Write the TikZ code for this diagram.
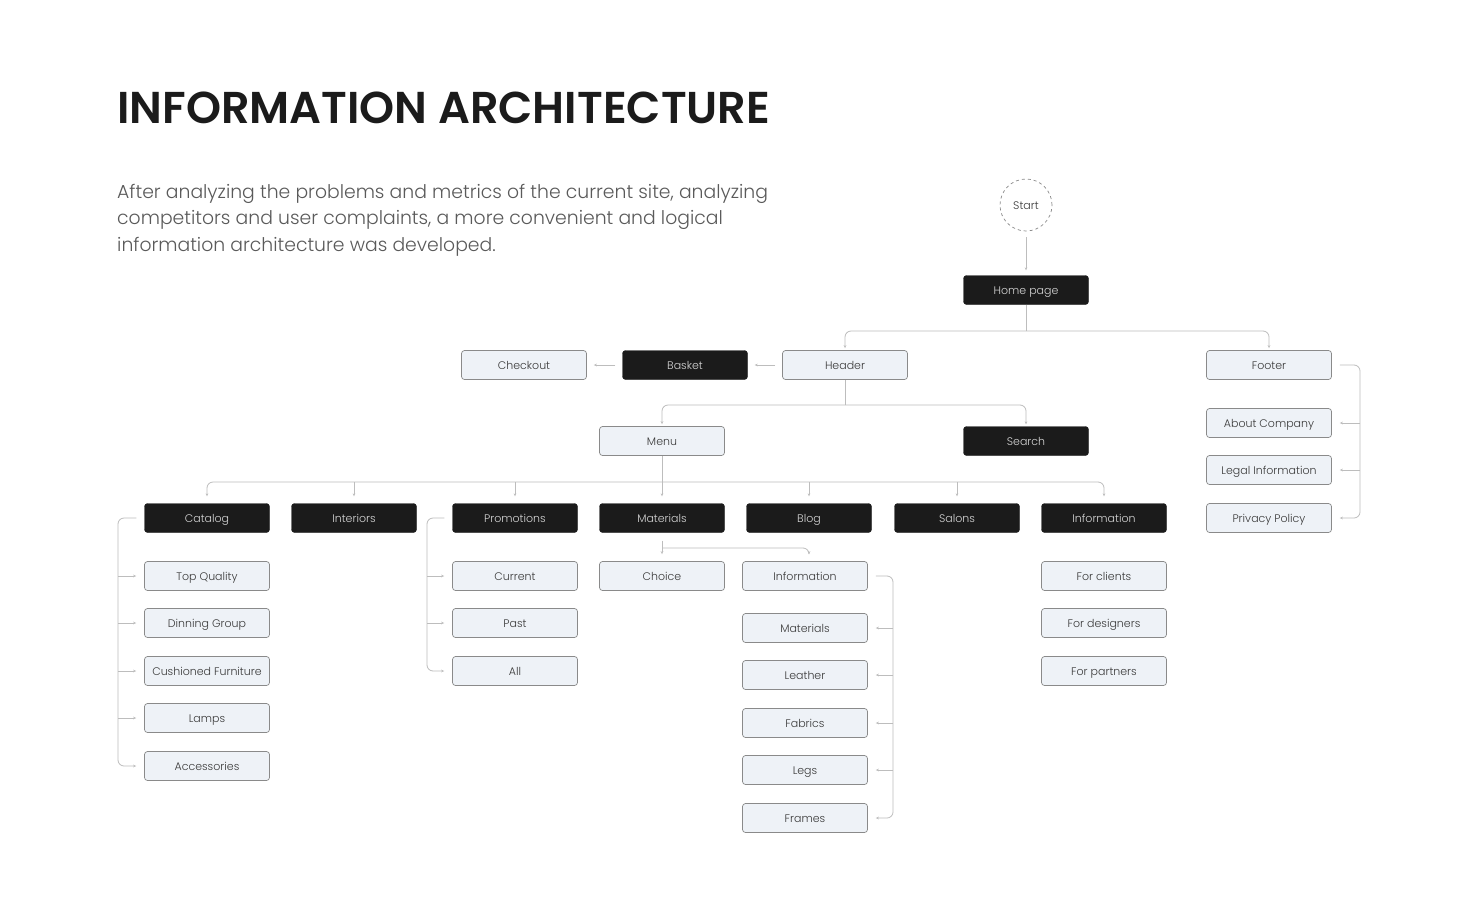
\documentclass[tikz,border=0pt]{standalone}
\usepackage{fontspec}
\setmainfont{Poppins}
\newfontfamily\titlefont{Poppins}[UprightFont={* SemiBold}]
\newfontfamily\lightfont{Poppins}[UprightFont={* Light}]
\usetikzlibrary{arrows.meta}
\definecolor{ink}{HTML}{1B1B1B}
\definecolor{body}{HTML}{5A5A5A}
\definecolor{pale}{HTML}{EEF2F7}
\definecolor{rim}{HTML}{8A8A8A}
\definecolor{wire}{HTML}{BDBDBD}
\definecolor{darktext}{HTML}{D6D6D6}
\definecolor{lighttext}{HTML}{3A3A3A}
\tikzset{
  labeltext/.style={text height=11pt, text depth=1.5pt,
    font=\lightfont\fontsize{11}{13}\selectfont},
  box/.style={rounded corners=3pt, minimum width=125pt, minimum height=29pt,
    inner sep=0pt, labeltext},
  lightbox/.style={box, fill=pale, draw=rim, line width=0.7pt, text=lighttext},
  darkbox/.style={box, fill=ink, draw=ink, text=darktext},
  conn/.style={draw=wire, line width=0.8pt, rounded corners=6pt},
  arr/.style={conn, -{Stealth[length=3pt,width=2.6pt]}},
}
\begin{document}
\begin{tikzpicture}[x=1pt,y=-1pt]
\useasboundingbox[fill=white] (0,0) rectangle (1481,916);

% heading and introduction
\node[anchor=base west, inner sep=0pt, text=ink,
  font=\titlefont\fontsize{44.6}{50}\selectfont] (title) at (117,123) {INFORMATION ARCHITECTURE};
\node[anchor=north west, inner sep=0pt, text=body, align=left,
  font=\lightfont\fontsize{18.8}{26.5}\selectfont] (intro) at (117,184)
  {After analyzing the problems and metrics of the current site, analyzing\\
   competitors and user complaints, a more convenient and logical\\
   information architecture was developed.};

% top levels
\node[circle, draw=rim, dashed, line width=0.7pt, minimum size=52pt, inner sep=0pt,
  labeltext, text=lighttext] (start) at (1026,205) {Start};
\node[darkbox] (home) at (1026,290) {Home page};
\node[lightbox] (checkout) at (524,365) {Checkout};
\node[darkbox] (basket) at (685,365) {Basket};
\node[lightbox] (header) at (845,365) {Header};
\node[lightbox] (footer) at (1269,365) {Footer};
\node[lightbox] (menu) at (662,441) {Menu};
\node[darkbox] (search) at (1026,441) {Search};

% menu sections
\node[darkbox] (catalog) at (207,518) {Catalog};
\node[darkbox] (interiors) at (354,518) {Interiors};
\node[darkbox] (promo) at (515,518) {Promotions};
\node[darkbox] (materials) at (662,518) {Materials};
\node[darkbox] (blog) at (809,518) {Blog};
\node[darkbox] (salons) at (957,518) {Salons};
\node[darkbox] (info) at (1104,518) {Information};

% footer pages
\node[lightbox] (about) at (1269,423) {About Company};
\node[lightbox] (legal) at (1269,470) {Legal Information};
\node[lightbox] (privacy) at (1269,518) {Privacy Policy};

% catalog pages
\node[lightbox] (topq) at (207,576) {Top Quality};
\node[lightbox] (dinning) at (207,623) {Dinning Group};
\node[lightbox] (cushion) at (207,671) {Cushioned Furniture};
\node[lightbox] (lamps) at (207,718) {Lamps};
\node[lightbox] (access) at (207,766) {Accessories};

% promotion pages
\node[lightbox] (current) at (515,576) {Current};
\node[lightbox] (past) at (515,623) {Past};
\node[lightbox] (all) at (515,671) {All};

% material pages
\node[lightbox] (choice) at (662,576) {Choice};
\node[lightbox] (minfo) at (805,576) {Information};
\node[lightbox] (mmat) at (805,628) {Materials};
\node[lightbox] (leather) at (805,675) {Leather};
\node[lightbox] (fabrics) at (805,723) {Fabrics};
\node[lightbox] (legs) at (805,770) {Legs};
\node[lightbox] (frames) at (805,818) {Frames};

% information pages
\node[lightbox] (clients) at (1104,576) {For clients};
\node[lightbox] (designers) at (1104,623) {For designers};
\node[lightbox] (partners) at (1104,671) {For partners};

% junction points of the branching lines
\coordinate (hj) at (1026,331);
\coordinate (mj) at (845,405);
\coordinate (sj) at (662,482);
\coordinate (tj) at (662,548);
\coordinate (cb) at (118,0);
\coordinate (pb) at (427,0);
\coordinate (ib) at (893,0);
\coordinate (fb) at (1360,0);

% start to home, home to header/footer
\draw[arr] ([yshift=-6pt]start.south) -- ([yshift=5pt]home.north);
\draw[conn] (home.south) -- (hj);
\draw[arr] (hj) -| ([yshift=2pt]header.north);
\draw[arr] (hj) -| ([yshift=2pt]footer.north);

% header to basket to checkout
\draw[arr] ([xshift=-7pt]header.west) -- ([xshift=7pt]basket.east);
\draw[arr] ([xshift=-7pt]basket.west) -- ([xshift=7pt]checkout.east);

% header to menu and search
\draw[conn] (header.south) -- (mj);
\draw[arr] (mj) -| ([yshift=2pt]menu.north);
\draw[arr] (mj) -| ([yshift=2pt]search.north);

% menu to its sections
\draw[conn] (menu.south) -- (sj);
\draw[arr] (sj) -| ([yshift=7pt]catalog.north);
\draw[arr] (sj) -| ([yshift=7pt]info.north);
\foreach \s in {interiors,promo,materials,blog,salons}
  \draw[arr, rounded corners=0pt] (sj -| \s.north) -- ([yshift=7pt]\s.north);

% catalog bracket
\draw[arr] ([xshift=-8pt]catalog.west) -| (cb |- access.west) -- ([xshift=-8pt]access.west);
\foreach \s in {topq,dinning,cushion,lamps}
  \draw[arr] (cb |- \s.west) -- ([xshift=-8pt]\s.west);

% promotions bracket
\draw[arr] ([xshift=-8pt]promo.west) -| (pb |- all.west) -- ([xshift=-8pt]all.west);
\foreach \s in {current,past}
  \draw[arr] (pb |- \s.west) -- ([xshift=-8pt]\s.west);

% materials to choice and information
\draw[conn] ([yshift=-8pt]materials.south) -- (tj);
\draw[arr] (tj) -- ([yshift=7pt]choice.north);
\draw[arr] (tj) -| ([yshift=7pt]minfo.north -| blog.north);

% material information bracket
\draw[arr] ([xshift=8pt]minfo.east) -| (ib |- frames.east) -- ([xshift=8pt]frames.east);
\foreach \s in {mmat,leather,fabrics,legs}
  \draw[arr] (ib |- \s.east) -- ([xshift=8pt]\s.east);

% footer bracket
\draw[arr] ([xshift=8pt]footer.east) -| (fb |- privacy.east) -- ([xshift=8pt]privacy.east);
\foreach \s in {about,legal}
  \draw[arr] (fb |- \s.east) -- ([xshift=8pt]\s.east);
\end{tikzpicture}
\end{document}
